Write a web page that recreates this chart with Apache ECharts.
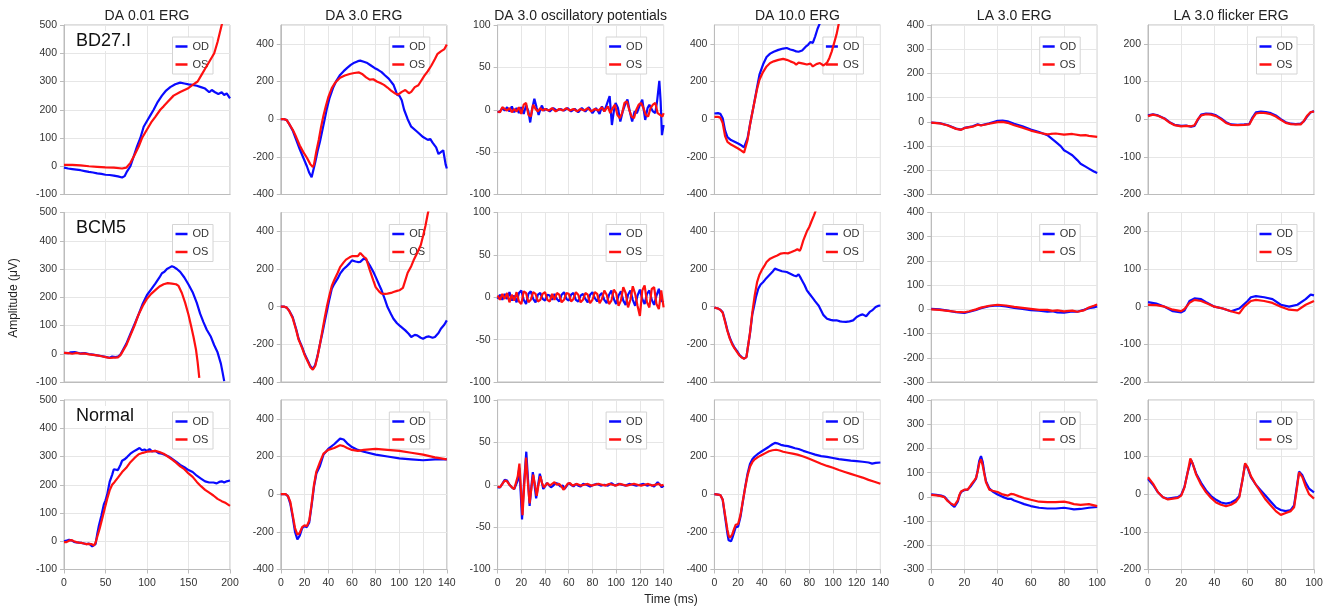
<!DOCTYPE html>
<html>
<head>
<meta charset="utf-8">
<title>ERG recordings</title>
<script src="https://cdn.jsdelivr.net/npm/echarts@6/dist/echarts.min.js"></script>
<style>
  html, body { margin: 0; padding: 0; background: #fff; }
  #chart { width: 1330px; height: 607px; }
</style>
</head>
<body>
<div id="chart"></div>
<script>
// ---- labels ----
const protocolTitles = ['DA 0.01 ERG', 'DA 3.0 ERG', 'DA 3.0 oscillatory potentials', 'DA 10.0 ERG', 'LA 3.0 ERG', 'LA 3.0 flicker ERG'];
const subjectNames = ['BD27.I', 'BCM5', 'Normal'];
const eyeNames = ['OD', 'OS'];
const xAxisName = 'Time (ms)';
const yAxisName = 'Amplitude (\u03bcV)';

// ---- axis ranges per protocol column (time in ms, amplitude in µV) ----
const timeMax = [200, 140, 140, 140, 100, 100];
const timeStep = [50, 20, 20, 20, 20, 20];
const ampMin = [-100, -400, -100, -400, -300, -200];
const ampMax = [500, 500, 100, 500, 400, 250];
const ampStep = [100, 200, 50, 200, 100, 100];

// ---- BD27.I traces: [time ms, amplitude µV] ----
const bd_da001_od = [[0,-5],[5,-8],[10,-10],[15,-12],[20,-14],[25,-17],[30,-20],[35,-22],[40,-25],[45,-27],[50,-30],[55,-31],[60,-33],[65,-36],[70,-40],[73,-35],[76,-18],[80,0],[84,35],[88,70],[92,100],[96,140],[100,160],[104,180],[108,200],[113,228],[118,250],[123,268],[128,280],[134,290],[140,296],[145,293],[150,290],[155,288],[160,285],[165,280],[170,275],[172,268],[175,262],[178,270],[182,262],[186,256],[190,262],[193,252],[196,258],[200,240]];
const bd_da001_os = [[0,5],[10,5],[20,3],[30,0],[40,-2],[50,-4],[60,-5],[70,-8],[75,-5],[80,12],[85,40],[90,70],[94,100],[100,130],[105,155],[110,175],[116,200],[120,212],[125,228],[132,250],[140,263],[149,275],[155,288],[161,300],[165,320],[170,345],[175,370],[181,400],[185,440],[190,500],[193,540]];
const bd_da3_od = [[0,0],[3,0],[5,-5],[7,-25],[10,-60],[13,-110],[16,-160],[19,-205],[22,-250],[24,-285],[26,-308],[27,-300],[29,-230],[31,-170],[33,-120],[35,-60],[37,0],[39,60],[41,110],[44,165],[47,205],[50,235],[53,255],[56,272],[59,288],[62,300],[65,308],[67,311],[70,305],[73,298],[76,285],[79,272],[82,262],[85,250],[88,232],[91,215],[95,183],[97,150],[98,130],[100,125],[102,100],[104,50],[107,0],[110,-40],[115,-67],[120,-95],[124,-110],[126,-105],[128,-125],[131,-150],[133,-185],[135,-175],[137,-165],[139,-240],[140,-262]];
const bd_da3_os = [[0,0],[3,0],[5,-5],[7,-25],[10,-55],[13,-95],[16,-140],[19,-175],[22,-205],[25,-240],[27,-254],[28,-240],[30,-170],[32,-110],[34,-40],[36,20],[38,70],[40,115],[43,165],[46,195],[50,220],[54,232],[58,240],[62,245],[66,248],[69,238],[72,222],[75,210],[78,212],[81,200],[84,192],[87,182],[90,168],[93,152],[96,138],[99,130],[102,145],[105,155],[108,138],[110,145],[113,170],[116,180],[118,200],[121,230],[124,255],[127,285],[130,320],[132,345],[135,360],[138,372],[140,396]];
const bd_op_od = [[0,-3],[2,-2],[4,2],[6,-1],[8,3],[10,-2],[12,4],[14,-3],[16,2],[18,-4],[20,3],[22,-5],[24,5],[26,-2],[27.5,-15],[29,0],[31,13],[33,2],[34.6,-6],[36,0],[37.4,5],[39,-1],[41,1],[44,-2],[47,2],[50,-1],[53,1],[56,-1],[59,2],[62,-2],[65,1],[68,-3],[71,2],[74,-2],[77,3],[80,-4],[83,2],[86,-5],[88,4],[90,-2],[92,6],[94.5,16],[96.4,-18],[98,-2],[99.5,8],[101.5,2],[103.5,-14],[105.5,-2],[107.5,6],[109.5,12],[111.5,-2],[113.5,-14],[115.5,-2],[117.5,-4],[119.5,4],[122,12],[124.5,-12],[126.5,2],[128,6],[129.5,8],[131,-2],[133,-4],[134.5,10],[136.4,34],[137.5,10],[138.6,-30],[140,-18]];
const bd_op_os = [[0,-2],[2,-3],[4,3],[6,1],[8,-1],[10,2],[12,-3],[14,1],[16,-2],[18,3],[20,-5],[22,6],[24,8],[26,-6],[28,-8],[30,6],[32,1],[34,-2],[36,2],[38,-1],[40,1],[43,-1],[46,2],[49,-2],[52,1],[55,-1],[58,2],[61,-1],[64,1],[67,-2],[70,1],[73,-1],[76,2],[79,-2],[82,1],[85,-1],[88,3],[90,-2],[93,4],[95,-4],[97,2],[99,6],[101,-6],[103,-10],[105,-4],[107,8],[109,10],[111,0],[113,-8],[115,-10],[117,0],[119,6],[121,8],[123,2],[125,-6],[127,-8],[129,2],[131,6],[133,8],[135,-4],[137,-6],[139,-8],[140,-4]];
const bd_da10_od = [[0,30],[3,32],[5,28],[7,5],[9,-60],[11,-95],[14,-111],[17,-120],[20,-129],[23,-140],[25,-150],[26,-156],[28,-100],[30,-30],[33,67],[36,170],[38,236],[41,290],[44,330],[47,348],[50,358],[54,368],[58,375],[61,378],[64,370],[67,365],[69,360],[71,358],[74,365],[77,385],[79,395],[81,410],[83,405],[85,440],[87,480],[89,510]];
const bd_da10_os = [[0,12],[3,12],[5,8],[7,-20],[9,-90],[11,-120],[14,-135],[17,-145],[20,-156],[23,-168],[25,-178],[26,-183],[28,-110],[30,-30],[33,67],[36,160],[38,209],[41,250],[44,280],[47,298],[50,307],[54,315],[58,320],[61,315],[64,307],[67,300],[69,290],[71,300],[72,307],[75,295],[78,290],[81,295],[83,280],[86,292],[89,298],[92,285],[95,300],[97,325],[99,360],[101,405],[103,450],[105,510]];
const bd_la_od = [[0,-3],[5,-5],[10,-14],[15,-28],[18,-32],[20,-25],[25,-18],[28,-10],[30,-14],[35,-6],[40,4],[43,5],[46,2],[50,-8],[55,-18],[60,-32],[65,-42],[70,-55],[75,-83],[78,-100],[80,-117],[82,-125],[85,-138],[88,-158],[90,-173],[93,-185],[95,-193],[98,-205],[100,-211]];
const bd_la_os = [[0,-3],[5,-6],[10,-15],[15,-29],[18,-33],[20,-26],[25,-20],[28,-12],[30,-15],[35,-8],[40,-1],[43,0],[46,-4],[50,-14],[55,-24],[60,-36],[65,-45],[70,-52],[72,-50],[75,-48],[80,-53],[85,-50],[90,-56],[93,-55],[95,-58],[100,-62]];
const bd_flk_od = [[0,10],[3,13],[6,10],[10,2],[13,-8],[16,-15],[20,-18],[23,-17],[26,-20],[28,-18],[30,-2],[32,12],[35,15],[38,14],[41,10],[44,2],[47,-8],[50,-14],[54,-15],[58,-14],[61,-13],[63,5],[65,18],[68,20],[71,19],[74,16],[77,10],[80,0],[83,-8],[86,-12],[89,-13],[92,-12],[94,-5],[96,8],[98,18],[100,22]];
const bd_flk_os = [[0,8],[3,12],[6,9],[10,1],[13,-9],[16,-16],[20,-19],[23,-18],[26,-19],[28,-16],[30,0],[32,10],[35,13],[38,12],[41,8],[44,0],[47,-10],[50,-15],[54,-16],[58,-15],[61,-14],[63,2],[65,15],[68,17],[71,16],[74,13],[77,7],[80,-2],[83,-10],[86,-13],[89,-14],[92,-14],[94,-4],[96,10],[98,19],[100,20]];

// ---- BCM5 traces ----
const bcm_da001_od = [[0,3],[5,2],[8,5],[10,1],[13,6],[15,2],[20,1],[25,2],[30,-1],[35,-3],[40,-6],[45,-8],[50,-11],[55,-14],[58,-10],[62,-12],[65,-10],[68,-3],[70,8],[75,35],[80,70],[85,105],[90,140],[95,178],[100,208],[105,228],[110,248],[115,270],[118,285],[121,290],[124,300],[127,305],[130,310],[133,306],[136,300],[140,290],[145,270],[150,245],[155,218],[160,180],[164,142],[168,112],[172,85],[177,60],[181,30],[185,5],[189,-35],[191,-65],[193,-97]];
const bcm_da001_os = [[0,3],[5,2],[10,0],[15,3],[20,0],[25,1],[30,-2],[35,-4],[40,-6],[45,-9],[50,-12],[55,-15],[60,-14],[65,-13],[68,-5],[70,5],[75,30],[80,65],[85,100],[90,140],[95,170],[100,195],[105,212],[110,225],[115,238],[120,246],[125,250],[130,248],[135,246],[138,240],[142,215],[146,180],[150,138],[153,100],[156,60],[159,15],[161,-30],[163,-85]];
const bcm_da3_od = [[0,0],[3,0],[5,-5],[7,-20],[10,-55],[13,-120],[15,-170],[18,-215],[20,-250],[23,-290],[25,-317],[27,-330],[29,-310],[31,-260],[33,-200],[35,-143],[37,-80],[39,-20],[41,40],[43,95],[45,120],[48,150],[50,175],[53,200],[55,211],[58,230],[60,246],[63,240],[65,237],[67,238],[70,255],[72,250],[75,220],[78,185],[80,158],[83,115],[85,87],[88,35],[90,-2],[93,-40],[95,-64],[98,-88],[100,-99],[103,-115],[105,-126],[108,-145],[110,-161],[113,-150],[115,-152],[118,-165],[120,-170],[123,-160],[125,-158],[128,-165],[130,-161],[133,-140],[135,-117],[138,-95],[140,-73]];
const bcm_da3_os = [[0,0],[3,0],[5,-5],[7,-22],[10,-60],[13,-125],[15,-175],[18,-220],[20,-255],[23,-295],[25,-322],[27,-335],[29,-315],[31,-265],[33,-200],[35,-130],[37,-60],[39,5],[41,60],[43,110],[45,140],[48,180],[50,210],[53,235],[55,250],[58,262],[60,268],[63,268],[65,268],[67,285],[68,290],[70,265],[72,255],[75,195],[78,140],[80,104],[83,80],[85,69],[88,68],[90,69],[93,73],[95,78],[98,84],[100,87],[103,100],[105,140],[107,180],[110,215],[112,246],[115,285],[118,326],[120,375],[122,430],[124,495],[125,520]];
const bcm_op_od = [[0,-2],[2,3],[4,-3],[6,4],[8,-2],[10,6],[12,-4],[14,2],[16,-6],[18,5],[20,8],[22,-3],[24,-8],[26,4],[28,7],[30,-2],[32,-6],[34,3],[36,5],[38,-2],[40,-4],[42,3],[44,2],[46,-3],[48,4],[50,-2],[52,-5],[54,3],[56,6],[58,-2],[60,-4],[62,3],[64,5],[66,-3],[68,-5],[70,2],[72,4],[74,-2],[76,-6],[78,3],[80,6],[82,-1],[84,-5],[86,2],[88,5],[90,-3],[92,-7],[94,3],[96,8],[98,-2],[100,-8],[102,2],[104,7],[106,-4],[108,-9],[110,3],[112,8],[114,-3],[116,-10],[118,2],[120,9],[122,-2],[124,-8],[126,4],[128,8],[130,-3],[132,-9],[134,2],[136,10],[138,-4],[140,-6]];
const bcm_op_os = [[0,2],[2,-3],[4,4],[6,-2],[8,5],[10,-6],[12,3],[14,-4],[16,6],[18,-5],[20,-8],[22,7],[24,5],[26,-6],[28,-3],[30,6],[32,4],[34,-5],[36,-3],[38,4],[40,6],[42,-3],[44,-5],[46,4],[48,-3],[50,5],[52,3],[54,-6],[56,-3],[58,5],[60,4],[62,-5],[64,-2],[66,6],[68,3],[70,-6],[72,-3],[74,5],[76,3],[78,-7],[80,-3],[82,6],[84,4],[86,-7],[88,-2],[90,8],[92,3],[94,-8],[96,-4],[98,9],[100,5],[102,-10],[104,-4],[106,12],[108,5],[110,-12],[112,-3],[114,13],[116,4],[118,-10],[120,-22],[122,8],[124,14],[126,-6],[128,-12],[130,10],[132,12],[134,-8],[136,-14],[138,8],[140,-12]];
const bcm_da10_od = [[0,-5],[3,-10],[5,-16],[7,-30],[9,-75],[11,-125],[13,-165],[15,-195],[17,-218],[19,-235],[21,-255],[23,-268],[25,-275],[27,-268],[28,-225],[30,-143],[32,-40],[33,-11],[35,50],[37,95],[39,118],[41,130],[43,145],[46,165],[49,185],[51,202],[54,195],[57,188],[61,184],[64,175],[67,166],[69,161],[71,172],[73,150],[76,115],[78,87],[80,70],[83,45],[85,28],[88,5],[90,-20],[92,-45],[95,-64],[98,-70],[100,-73],[103,-72],[106,-78],[108,-80],[111,-81],[114,-78],[117,-73],[120,-55],[123,-45],[125,-41],[128,-51],[131,-28],[133,-20],[136,-2],[138,4],[140,6]];
const bcm_da10_os = [[0,-5],[3,-10],[5,-17],[7,-32],[9,-80],[11,-130],[13,-170],[15,-200],[17,-222],[19,-240],[21,-258],[23,-270],[25,-276],[27,-268],[28,-225],[30,-140],[32,-30],[34,60],[36,130],[38,170],[40,195],[42,215],[44,237],[47,255],[50,264],[53,272],[56,282],[59,285],[62,283],[65,290],[68,298],[70,305],[72,296],[73,310],[75,352],[78,400],[80,423],[82,455],[84,485],[86,520]];
const bcm_la_od = [[0,2],[5,0],[10,-5],[15,-12],[20,-15],[23,-10],[27,-2],[30,5],[35,13],[40,16],[45,12],[50,6],[55,2],[60,-3],[65,-5],[70,-10],[73,-8],[76,-13],[80,-14],[85,-8],[88,-10],[92,-2],[95,5],[98,8],[100,12]];
const bcm_la_os = [[0,0],[5,-2],[10,-6],[15,-10],[20,-12],[23,-8],[27,0],[30,7],[35,15],[40,19],[45,16],[50,10],[55,6],[60,2],[65,-2],[70,-2],[73,-6],[76,-4],[80,-8],[85,-5],[88,-10],[92,-4],[95,8],[98,15],[100,20]];
const bcm_flk_od = [[0,12],[5,8],[10,0],[15,-12],[20,-15],[22,-10],[25,15],[28,22],[32,20],[35,12],[40,0],[45,-5],[50,-12],[55,-5],[60,15],[62,25],[65,28],[70,25],[75,20],[80,5],[85,0],[90,5],[95,20],[98,32],[100,30]];
const bcm_flk_os = [[0,5],[5,4],[10,0],[15,-8],[20,-12],[22,-6],[25,10],[28,18],[32,15],[36,8],[40,0],[45,-5],[50,-12],[55,-18],[58,0],[62,15],[65,18],[70,15],[75,10],[80,0],[85,-8],[90,-10],[95,5],[100,15]];

// ---- Normal traces ----
const nor_da001_od = [[0,0],[3,2],[6,5],[9,3],[12,-2],[15,-4],[18,-5],[21,-6],[24,-8],[27,-10],[30,-8],[32,-12],[34,-18],[36,-25],[38,-10],[40,25],[42,55],[45,90],[48,130],[50,145],[52,165],[55,210],[58,235],[60,255],[62,250],[65,252],[68,270],[70,285],[73,290],[76,298],[80,310],[84,318],[88,325],[91,330],[94,322],[97,325],[100,320],[103,326],[106,318],[110,320],[114,312],[118,310],[122,305],[126,300],[130,292],[135,282],[140,270],[145,262],[150,252],[155,245],[160,232],[165,222],[170,212],[175,208],[180,208],[184,205],[187,210],[190,212],[193,208],[196,212],[200,215]];
const nor_da001_os = [[0,-3],[3,-3],[6,2],[9,4],[12,0],[15,-3],[18,-5],[21,-6],[24,-8],[27,-10],[30,-9],[33,-10],[36,-15],[38,-5],[40,15],[43,45],[46,80],[49,115],[52,150],[55,180],[58,200],[61,210],[65,225],[70,245],[75,260],[80,280],[85,295],[90,308],[95,313],[100,317],[105,318],[110,320],[115,316],[120,310],[125,300],[130,290],[135,278],[140,265],[145,255],[150,240],[155,228],[160,210],[165,195],[170,182],[175,172],[180,162],[185,150],[190,142],[195,135],[200,125]];
const nor_da3_od = [[0,0],[4,0],[6,-10],[8,-50],[10,-120],[12,-200],[14,-240],[16,-220],[18,-180],[20,-170],[22,-175],[24,-150],[26,-60],[28,40],[30,110],[33,150],[36,210],[40,240],[45,265],[50,295],[53,290],[56,270],[60,250],[65,235],[70,225],[80,210],[90,200],[100,190],[110,185],[120,180],[130,185],[140,185]];
const nor_da3_os = [[0,0],[4,0],[6,-10],[8,-40],[10,-110],[12,-180],[14,-215],[16,-205],[18,-175],[20,-165],[22,-170],[24,-140],[26,-50],[28,50],[30,120],[33,170],[36,215],[40,235],[45,245],[50,260],[53,255],[56,245],[60,235],[65,230],[70,235],[80,240],[90,235],[100,230],[110,220],[120,210],[130,195],[140,185]];
const nor_op_od = [[0,-3],[2,-3],[4,1],[6,6],[7,7],[8,5],[10,0],[12,-3],[14,-5],[15.5,-6],[17,5],[18.3,20],[19.5,-10],[20.6,-41],[22.2,0],[24.2,39],[25.7,5],[27,-25],[28.3,-5],[29.7,15],[31,2],[32.5,-16],[34,-2],[35.6,13],[37,5],[38.5,-5],[40,-2],[41.5,2],[43,0],[45,-3],[47,-1],[49,2],[51,1],[53,-2],[55,-1],[56.5,-5],[58,-2],[60,2],[62,0],[64,-2],[66,1],[68,-1],[70,-2],[72,1],[75,0],[78,-2],[81,0],[84,1],[87,-1],[90,0],[93,-1],[96,2],[99,-1],[102,1],[105,0],[108,-1],[111,1],[114,0],[117,-1],[120,0],[123,1],[126,-1],[129,0],[132,-2],[135,3],[137,0],[138.5,-3],[140,-1]];
const nor_op_os = [[0,-2],[2,-3],[4,1],[6,5],[7,6],[8,4],[10,0],[12,-3],[14,-5],[15.5,-5],[17,10],[18.4,25],[19.7,-5],[21,-36],[22.5,0],[24,32],[25.5,3],[27,-22],[28.5,-4],[30,12],[31.5,0],[33,-13],[34.5,0],[36,10],[37.5,2],[39,-3],[40.5,-1],[42,2],[44,-1],[46,1],[48,3],[50,0],[52,1],[54,-2],[55.5,-6],[57,-3],[59,1],[61,2],[63,-1],[65,0],[67,1],[70,-1],[73,0],[76,1],[79,-1],[82,0],[85,1],[88,0],[91,-1],[94,1],[97,0],[100,-1],[103,1],[106,0],[109,-1],[112,0],[115,1],[118,0],[121,-1],[124,0],[127,1],[130,-1],[133,0],[136,1],[138,-1],[140,0]];
const nor_da10_od = [[0,0],[3,-2],[5,-5],[7,-30],[9,-120],[11,-210],[12,-245],[13,-255],[14,-250],[15,-235],[16,-215],[17,-195],[18,-175],[19,-170],[20,-172],[21,-165],[22,-120],[24,-40],[26,40],[28,110],[30,160],[32,185],[34,200],[37,215],[40,228],[43,240],[46,252],[49,265],[51,272],[53,270],[56,262],[59,258],[62,255],[65,250],[68,244],[71,240],[75,230],[80,220],[85,210],[90,202],[95,198],[100,192],[105,186],[110,182],[115,178],[120,175],[125,172],[130,168],[133,162],[136,166],[140,168]];
const nor_da10_os = [[0,0],[3,-2],[5,-5],[7,-28],[9,-110],[11,-190],[12,-220],[13,-232],[14,-228],[15,-215],[16,-195],[17,-178],[18,-162],[19,-155],[20,-158],[21,-150],[22,-110],[24,-35],[26,35],[28,100],[30,145],[32,170],[34,185],[37,198],[40,208],[43,218],[46,228],[49,233],[52,236],[55,232],[58,225],[62,220],[66,215],[70,210],[75,200],[80,188],[85,175],[90,162],[95,150],[100,140],[105,128],[110,118],[115,108],[120,98],[125,88],[130,76],[135,66],[140,55]];
const nor_la_od = [[0,10],[3,8],[6,5],[8,0],[10,-15],[12,-30],[14,-42],[15,-40],[16,-20],[17,5],[18,20],[20,28],[22,30],[24,45],[26,65],[27,75],[28,110],[29,150],[30,168],[31,145],[32,100],[33,65],[35,35],[37,22],[40,10],[43,0],[46,-8],[48,-8],[50,-15],[53,-22],[56,-30],[60,-38],[65,-45],[70,-48],[75,-48],[80,-45],[83,-48],[86,-52],[90,-50],[95,-45],[100,-42]];
const nor_la_os = [[0,8],[3,6],[6,3],[8,-2],[10,-18],[12,-28],[14,-35],[15,-32],[16,-15],[17,8],[18,22],[20,30],[22,30],[24,50],[26,68],[27,78],[28,105],[29,140],[30,155],[31,130],[32,95],[33,60],[35,30],[37,25],[40,20],[43,10],[46,5],[48,12],[50,10],[53,2],[56,-5],[60,-12],[65,-20],[70,-22],[75,-22],[80,-20],[83,-24],[86,-30],[90,-33],[95,-30],[100,-38]];
const nor_flk_od = [[0,40],[3,25],[6,5],[9,-8],[12,-12],[15,-10],[18,-8],[20,-2],[22,20],[24,60],[26,90],[27,80],[29,55],[32,30],[35,10],[38,-5],[41,-15],[44,-22],[47,-25],[50,-22],[53,-15],[55,-5],[57,40],[58.5,80],[60,70],[62,45],[65,25],[68,10],[71,-5],[74,-20],[77,-35],[80,-42],[83,-45],[86,-42],[88,-30],[90,30],[91,60],[93,50],[95,30],[97,15],[100,5]];
const nor_flk_os = [[0,45],[3,28],[6,5],[9,-8],[12,-14],[15,-12],[18,-10],[20,-4],[22,18],[24,60],[25.5,95],[27,80],[29,52],[32,25],[35,5],[38,-10],[41,-22],[44,-28],[47,-32],[50,-28],[53,-20],[55,-8],[57,40],[58.5,82],[60,72],[62,48],[65,25],[68,5],[71,-15],[74,-30],[77,-45],[80,-55],[83,-50],[86,-45],[88,-35],[90,25],[91,58],[93,45],[95,20],[97,0],[100,-12]];

// rows = subjects, columns = protocols, each cell = [OD, OS]
const traces = [
  [[bd_da001_od, bd_da001_os], [bd_da3_od, bd_da3_os], [bd_op_od, bd_op_os], [bd_da10_od, bd_da10_os], [bd_la_od, bd_la_os], [bd_flk_od, bd_flk_os]],
  [[bcm_da001_od, bcm_da001_os], [bcm_da3_od, bcm_da3_os], [bcm_op_od, bcm_op_os], [bcm_da10_od, bcm_da10_os], [bcm_la_od, bcm_la_os], [bcm_flk_od, bcm_flk_os]],
  [[nor_da001_od, nor_da001_os], [nor_da3_od, nor_da3_os], [nor_op_od, nor_op_os], [nor_da10_od, nor_da10_os], [nor_la_od, nor_la_os], [nor_flk_od, nor_flk_os]]
];

// ---- layout ----
const W = 1330, H = 607;
const LEFT0 = 64, COL_STEP = 216.8, PLOT_W = 166;
const TOP0 = 25, ROW_STEP = 187.5, PLOT_H = 169.5;
const FONT = '"Liberation Sans", Arial, sans-serif';
const eyeColors = ['#0a0aff', '#ff1010'];
const gridColor = '#e6e6e6';
const frameColor = '#bcbcbc';

const grids = [], xAxes = [], yAxes = [], series = [], legends = [], graphics = [];

for (let r = 0; r < subjectNames.length; r++) {
  for (let c = 0; c < protocolTitles.length; c++) {
    const idx = r * protocolTitles.length + c;
    const left = LEFT0 + c * COL_STEP;
    const top = TOP0 + r * ROW_STEP;
    const lastRow = r === subjectNames.length - 1;
    grids.push({
      left: left, top: top, width: PLOT_W, height: PLOT_H,
      show: true, borderColor: frameColor, borderWidth: 1,
      backgroundColor: '#fff', containLabel: false, outerBoundsMode: 'none'
    });
    xAxes.push({
      type: 'value', gridIndex: idx, min: 0, max: timeMax[c], interval: timeStep[c],
      axisLine: { show: true, onZero: false, lineStyle: { color: frameColor } },
      axisTick: { show: lastRow, inside: false, length: 4, lineStyle: { color: frameColor } },
      axisLabel: { show: lastRow, margin: 8, fontSize: 10.5, color: '#333', fontFamily: FONT },
      splitLine: { show: true, lineStyle: { color: gridColor, width: 1 } }
    });
    const onStep = (ampMax[c] - ampMin[c]) % ampStep[c] === 0;
    yAxes.push({
      type: 'value', gridIndex: idx, min: ampMin[c], max: ampMax[c], interval: ampStep[c],
      axisLine: { show: true, lineStyle: { color: frameColor } },
      axisTick: { show: true, inside: false, length: 4, lineStyle: { color: frameColor } },
      axisLabel: { show: true, margin: 7, fontSize: 10.5, color: '#333', fontFamily: FONT, showMaxLabel: onStep },
      splitLine: { show: true, lineStyle: { color: gridColor, width: 1 } }
    });
    eyeNames.forEach((eye, k) => {
      series.push({
        name: eye, type: 'line', xAxisIndex: idx, yAxisIndex: idx,
        data: traces[r][c][k], showSymbol: false, symbol: 'none', smooth: false,
        clip: true, color: eyeColors[k],
        lineStyle: { color: eyeColors[k], width: 2.2 },
        emphasis: { disabled: true }, z: 3 + k
      });
    });
    // legend box sits under the traces, so lines crossing it stay visible
    legends.push({
      data: eyeNames, orient: 'vertical', z: 1,
      right: W - (left + PLOT_W - 17), top: top + 12,
      icon: 'rect', itemWidth: 12, itemHeight: 2.5, itemGap: 5,
      padding: [3, 4, 3, 3],
      backgroundColor: '#fff', borderColor: '#d4d4d4', borderWidth: 1, borderRadius: 0,
      textStyle: { fontSize: 11, color: '#333', fontFamily: FONT, lineHeight: 13 },
      selectedMode: false
    });
  }
  graphics.push({
    type: 'text', x: 74, y: TOP0 + r * ROW_STEP + 16, z: 10,
    style: {
      text: subjectNames[r], font: '18px ' + FONT, fill: '#111', align: 'left', verticalAlign: 'middle',
      backgroundColor: '#fff', padding: [1, 2, 1, 2]
    }
  });
}

protocolTitles.forEach((t, c) => {
  graphics.push({
    type: 'text', x: LEFT0 + c * COL_STEP + PLOT_W / 2, y: 16.5, z: 10,
    style: { text: t, font: '14px ' + FONT, fill: '#222', align: 'center', verticalAlign: 'middle' }
  });
});
graphics.push({
  type: 'text', x: 14, y: 298, rotation: Math.PI / 2, z: 10,
  style: { text: yAxisName, font: '12px ' + FONT, fill: '#222', align: 'center', verticalAlign: 'middle' }
});
graphics.push({
  type: 'text', x: 671, y: 600, z: 10,
  style: { text: xAxisName, font: '12px ' + FONT, fill: '#222', align: 'center', verticalAlign: 'middle' }
});

const chart = echarts.init(document.getElementById('chart'), null, { renderer: 'canvas', width: W, height: H });
chart.setOption({
  animation: false,
  backgroundColor: '#fff',
  grid: grids, xAxis: xAxes, yAxis: yAxes, series: series,
  legend: legends, graphic: graphics,
  tooltip: { show: false }
});
</script>
</body>
</html>
